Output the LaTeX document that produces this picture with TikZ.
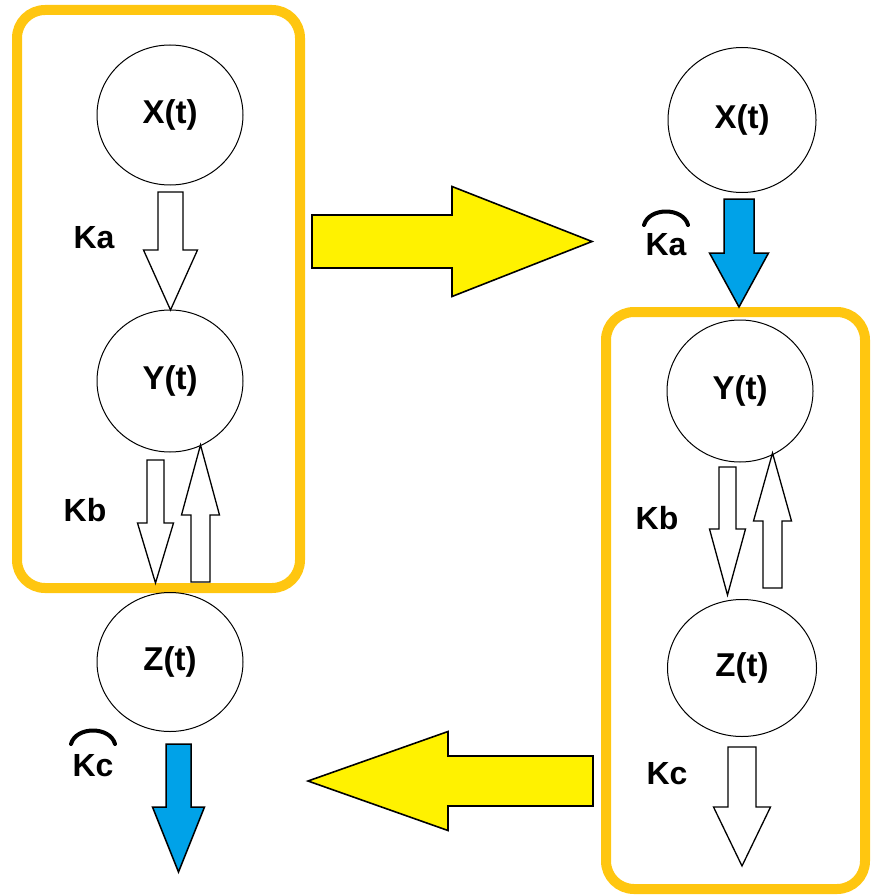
\documentclass[tikz,border=0pt]{standalone}
\usepackage{fontspec}
\setmainfont{Liberation Sans}
\usetikzlibrary{calc,shapes.geometric}
\definecolor{boxorange}{RGB}{255,198,16}
\definecolor{arryellow}{RGB}{255,242,0}
\definecolor{arrblue}{RGB}{0,162,232}
\begin{document}
\begin{tikzpicture}[x=1pt,y=-1pt,
  state/.style={draw, line width=1pt, ellipse, inner sep=0pt, font=\fontsize{33}{36}\selectfont\bfseries},
  lbl/.style={font=\fontsize{32}{36}\selectfont\bfseries, inner sep=0pt},
  frame/.style={draw=boxorange, line width=10pt, rounded corners=28pt},
  hat/.style={line width=4pt, line cap=round, line join=round},
  whitearr/.style={draw, fill=white, line width=1.3pt, line join=miter},
  yellowarr/.style={draw, fill=arryellow, line width=1.6pt, line join=miter},
  bluearr/.style={draw, fill=arrblue, line width=1.5pt, line join=miter},
  vblock/.style n args={3}{to path={let \p1=(\tikztostart), \p2=(\tikztotarget), \n1={sign(\y2-\y1)} in
    ({\x1-#1},{\y1}) -- ({\x1+#1},{\y1}) -- ({\x1+#1},{\y2-(\n1*#3)}) -- ({\x1+#2},{\y2-(\n1*#3)})
    -- (\x2,\y2) -- ({\x1-#2},{\y2-(\n1*#3)}) -- ({\x1-#1},{\y2-(\n1*#3)}) -- cycle}},
  hblock/.style n args={3}{to path={let \p1=(\tikztostart), \p2=(\tikztotarget), \n1={sign(\x2-\x1)} in
    ({\x1},{\y1-#1}) -- ({\x2-(\n1*#3)},{\y1-#1}) -- ({\x2-(\n1*#3)},{\y1-#2}) -- (\x2,\y2)
    -- ({\x2-(\n1*#3)},{\y1+#2}) -- ({\x2-(\n1*#3)},{\y1+#1}) -- ({\x1},{\y1+#1}) -- cycle}}
]
\useasboundingbox (0,0) rectangle (879,896);

% frames
\draw[frame] (17,10) rectangle (300,588);
\draw[frame] (606,312) rectangle (865,889);

% left states
\node[state, minimum width=146pt, minimum height=140pt] (Xl) at (170,115) {X(t)};
\node[state, minimum width=146pt, minimum height=142pt] (Yl) at (170,381) {Y(t)};
\node[state, minimum width=146pt, minimum height=139pt] (Zl) at (170,662) {Z(t)};

% right states
\node[state, minimum width=148pt, minimum height=145pt] (Xr) at (742,120) {X(t)};
\node[state, minimum width=146pt, minimum height=142pt] (Yr) at (740,391) {Y(t)};
\node[state, minimum width=149pt, minimum height=137pt] (Zr) at (742,668) {Z(t)};

% connector end points
\coordinate (kaS) at (170.5,192);  \coordinate (kaE) at (170.5,310);
\coordinate (kbdS) at (155.5,460); \coordinate (kbdE) at (155.5,583);
\coordinate (kbuS) at (200.5,582); \coordinate (kbuE) at (200.5,445);
\coordinate (kclS) at (178.5,744); \coordinate (kclE) at (178.5,872);
\coordinate (karS) at (739,199);   \coordinate (karE) at (739,307);
\coordinate (kbrdS) at (727.5,467); \coordinate (kbrdE) at (727.5,595);
\coordinate (kbruS) at (772.5,588); \coordinate (kbruE) at (772.5,453);
\coordinate (kcrS) at (742,747);   \coordinate (kcrE) at (742,866);
\coordinate (y1S) at (312,241.5);  \coordinate (y1E) at (592,241.5);
\coordinate (y2S) at (593,781);    \coordinate (y2E) at (308,781);

% white block arrows
\draw[whitearr] (kaS) to[vblock={12.5}{27}{60}] (kaE);
\draw[whitearr] (kbdS) to[vblock={8.5}{18}{60}] (kbdE);
\draw[whitearr] (kbuS) to[vblock={9.5}{19}{70}] (kbuE);
\draw[whitearr] (kbrdS) to[vblock={8.5}{18}{66}] (kbrdE);
\draw[whitearr] (kbruS) to[vblock={9.5}{19}{68}] (kbruE);
\draw[whitearr] (kcrS) to[vblock={14}{28.5}{59}] (kcrE);

% blue block arrows
\draw[bluearr] (kclS) to[vblock={12.5}{26}{65}] (kclE);
\draw[bluearr] (karS) to[vblock={15}{29.5}{54}] (karE);

% yellow block arrows
\draw[yellowarr] (y1S) to[hblock={26.5}{55}{140}] (y1E);
\draw[yellowarr] (y2S) to[hblock={25}{49.5}{140}] (y2E);

% labels
\node[lbl] (lka) at (94,238) {Ka};
\node[lbl] (lkb) at (85,510) {Kb};
\node[lbl] (lkc) at (93,766) {Kc};
\node[lbl] (rka) at (666,245) {Ka};
\node[lbl] (rkb) at (657,518) {Kb};
\node[lbl] (rkc) at (667,774) {Kc};

% hats
\draw[hat] ($(lkc)+(-22,-22)$) .. controls ($(lkc)+(-17,-40)$) and ($(lkc)+(17,-40)$) .. ($(lkc)+(22,-22)$);
\draw[hat] ($(rka)+(-22,-20)$) .. controls ($(rka)+(-17,-38)$) and ($(rka)+(17,-38)$) .. ($(rka)+(22,-20)$);
\end{tikzpicture}
\end{document}
